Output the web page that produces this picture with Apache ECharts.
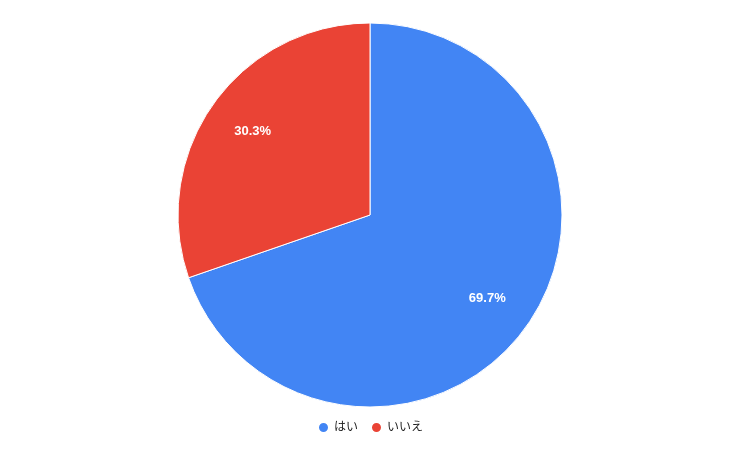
<!DOCTYPE html>
<html><head><meta charset="utf-8">
<script src="https://cdn.jsdelivr.net/npm/echarts@6/dist/echarts.min.js"></script>
<style>html,body{margin:0;padding:0;background:#fff}#c{width:740px;height:457px}</style>
</head><body><div id="c"></div>
<script>
const categories = ['はい', 'いいえ'];
const values = [69.7, 30.3];
const colors = ['#4285F4', '#EA4335'];

const data = categories.map((n, i) => ({ name: n, value: values[i], itemStyle: { color: colors[i] } }));
const chart = echarts.init(document.getElementById('c'));
chart.setOption({
  animation: false,
  backgroundColor: '#fff',
  legend: {
    bottom: 18, left: 'center',
    icon: 'circle', itemWidth: 11, itemHeight: 11, itemGap: 12,
    textStyle: { fontFamily: 'Liberation Sans, Arial, Noto Sans CJK JP', fontSize: 12, color: '#222' },
    data: categories
  },
  series: [
    {
      type: 'pie', center: [370, 215], radius: [0, 192], startAngle: 90, clockwise: true,
      data: data,
      itemStyle: { borderColor: '#fff', borderWidth: 1 },
      label: { show: false }, labelLine: { show: false },
      emphasis: { disabled: true }
    },
    {
      type: 'pie', center: [370, 215], radius: [90, 192], startAngle: 90, clockwise: true,
      silent: true,
      data: categories.map((n, i) => ({ name: n, value: values[i] })),
      itemStyle: { color: 'rgba(0,0,0,0)', borderWidth: 0 },
      label: {
        show: true, position: 'inside',
        formatter: p => p.value.toFixed(1) + '%',
        color: '#fff', fontWeight: 'bold', fontSize: 13,
        fontFamily: 'Liberation Sans, Arial, sans-serif'
      },
      labelLine: { show: false },
      emphasis: { disabled: true }
    }
  ]
});
</script></body></html>
